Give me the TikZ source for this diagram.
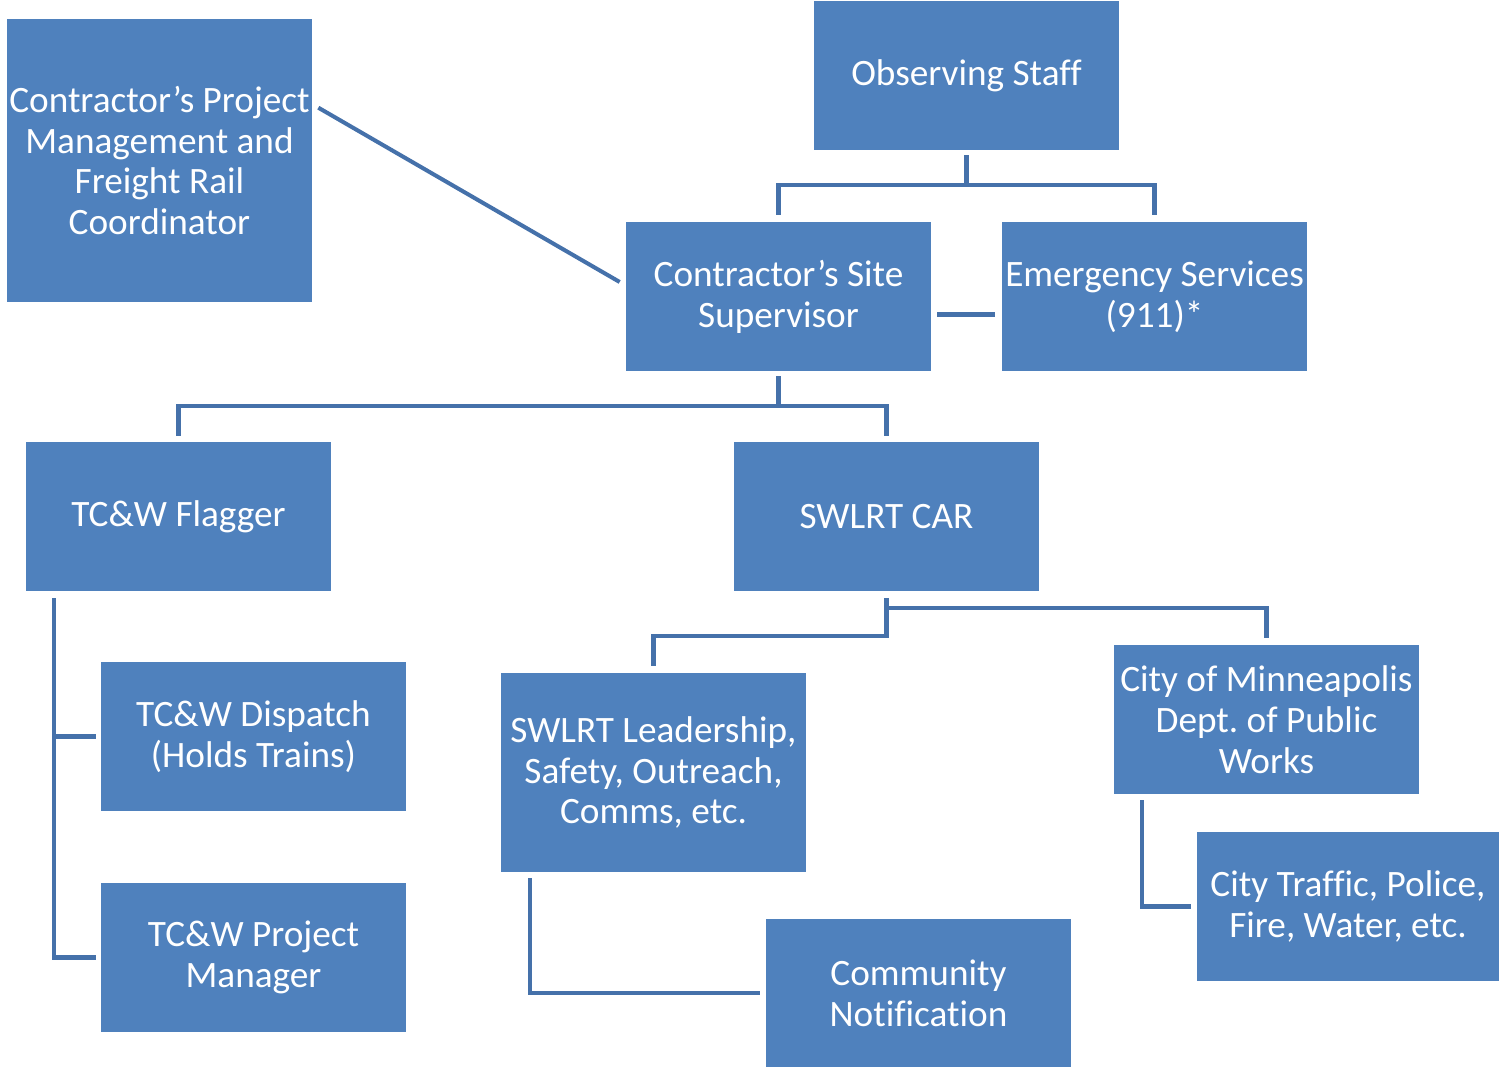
\documentclass[tikz,border=0pt]{standalone}
\usepackage{fontspec}
\setmainfont[Ligatures=NoCommon]{Carlito}
\frenchspacing
\definecolor{boxblue}{HTML}{4F81BD}
\definecolor{lineblue}{HTML}{4571AA}

\begin{document}
\begin{tikzpicture}[x=0.02cm, y=-0.02cm,
    orgbox/.style={rectangle, fill=boxblue, text=white, inner sep=0pt,
        minimum width=6.1cm, minimum height=2.98cm, align=center,
        font=\fontsize{21.2}{23.3}\selectfont},
    link/.style={draw=lineblue, line width=2.3pt}]
\useasboundingbox (0,0) rectangle (1499,1067);

% Boxes of the chart
\node[orgbox, minimum height=5.66cm] (proj) at (159.5,160.5) {Contractor’s Project\\Management and\\Freight Rail\\Coordinator};
\node[orgbox] (obs) at (966.5,75.5) {Observing Staff};
\node[orgbox] (site) at (778.5,296.5) {Contractor’s Site\\Supervisor};
\node[orgbox] (ems) at (1154.5,296.5) {Emergency Services\\(911)*};
\node[orgbox] (flag) at (178.5,516.5) {TC\&W Flagger};
\node[orgbox] (car) at (886.5,516.5) {SWLRT CAR};
\node[orgbox] (disp) at (253.5,736.5) {TC\&W Dispatch\\(Holds Trains)};
\node[orgbox] (tcpm) at (253.5,957.5) {TC\&W Project\\Manager};
\node[orgbox, minimum height=3.98cm] (lead) at (653.5,772.5) {SWLRT Leadership,\\Safety, Outreach,\\Comms, etc.};
\node[orgbox] (city) at (1266.5,719.5) {City of Minneapolis\\Dept. of Public\\Works};
\node[orgbox, minimum width=6.04cm] (traf) at (1348,906.5) {City Traffic, Police,\\Fire, Water, etc.};
\node[orgbox] (comm) at (918.5,993) {Community\\Notification};

% Connectors
\draw[link, shorten <=0.1cm, shorten >=0.14cm] (obs.south) -- ++(0,35) -| (site.north);
\draw[link, shorten <=0.1cm, shorten >=0.14cm] (obs.south) -- ++(0,35) -| (ems.north);
\draw[link] ([shift={(6,89)}]proj.north east) -- ([shift={(-6,-14.5)}]site.west);
\draw[link] ([shift={(6,18)}]site.east) -- ([shift={(-7,18)}]ems.west);
\draw[link, shorten <=0.1cm, shorten >=0.12cm] (site.south) -- ++(0,35) -| (flag.north);
\draw[link, shorten <=0.1cm, shorten >=0.12cm] (site.south) -- ++(0,35) -| (car.north);
\draw[link, shorten <=0.14cm, shorten >=0.14cm] (car.south) -- ++(0,45) -| (lead.north);
\draw[link, shorten <=0.14cm, shorten >=0.14cm] (car.south) -- ++(0,17) -| (city.north);
\draw[link, shorten <=0.14cm, shorten >=0.1cm] ([xshift=0.56cm]flag.south west) |- (disp.west);
\draw[link, shorten <=0.14cm, shorten >=0.1cm] ([xshift=0.56cm]flag.south west) |- (tcpm.west);
\draw[link, shorten <=0.12cm, shorten >=0.12cm] ([xshift=0.58cm]lead.south west) |- (comm.west);
\draw[link, shorten <=0.12cm, shorten >=0.12cm] ([xshift=0.56cm]city.south west) |- (traf.west);
\end{tikzpicture}
\end{document}
